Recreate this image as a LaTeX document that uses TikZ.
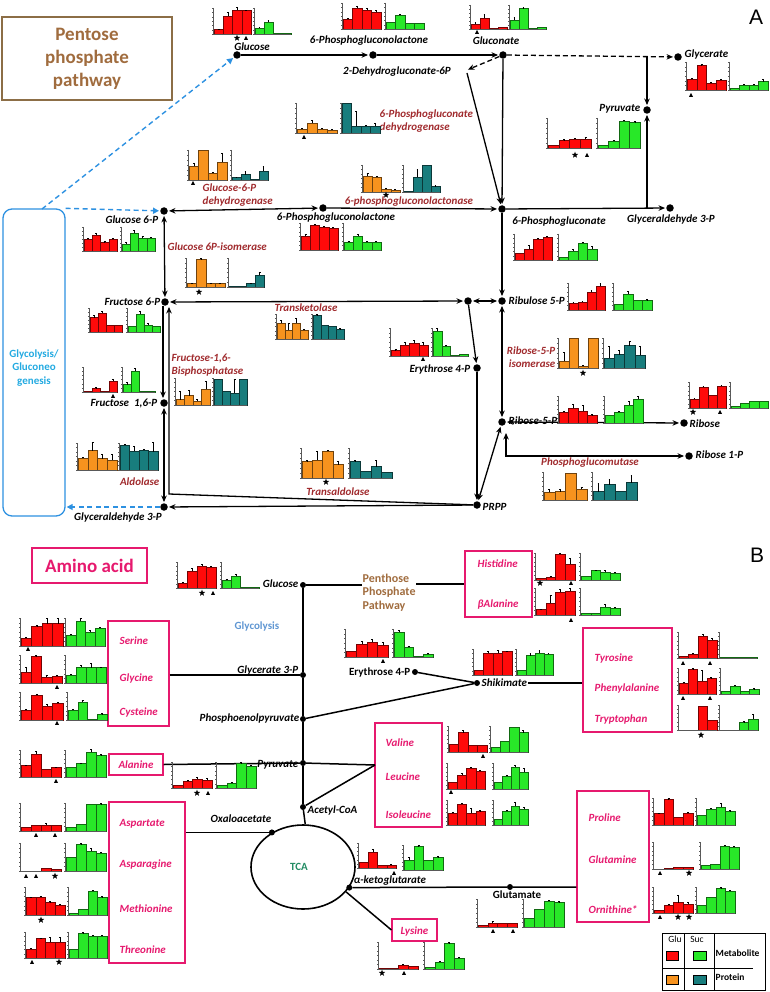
\documentclass[tikz,border=0pt]{standalone}
\usepackage{fontspec}
\setmainfont{Carlito}
\newfontfamily\arialf{Liberation Sans}
\usetikzlibrary{arrows.meta,shapes.geometric}
\definecolor{barR}{RGB}{255,10,10}
\definecolor{barG}{RGB}{40,232,40}
\definecolor{barO}{RGB}{247,147,30}
\definecolor{barT}{RGB}{24,125,125}
\definecolor{enzC}{RGB}{160,42,45}
\definecolor{aaC}{RGB}{230,25,110}
\definecolor{pppC}{RGB}{160,108,62}
\definecolor{pppB}{RGB}{140,110,70}
\definecolor{glyBox}{RGB}{45,145,225}
\definecolor{glyC}{RGB}{35,170,225}
\definecolor{glyB}{RGB}{95,150,210}
\definecolor{tcaC}{RGB}{35,140,100}
\newcommand\chart[6]{%
  \pgfmathsetmacro\cL{#1}\pgfmathsetmacro\cT{#2}\pgfmathsetmacro\cR{#3}\pgfmathsetmacro\cB{#4}%
  \pgfmathsetmacro\cBw{(\cR-\cL-1)/4}\pgfmathsetmacro\cHt{\cB-\cT}%
  \foreach \hh/\ee [count=\cI] in {#6}{%
    \pgfmathsetmacro\cXa{\cL+1+(\cI-1)*\cBw}%
    \pgfmathsetmacro\cXb{\cXa+\cBw}%
    \pgfmathsetmacro\cXm{\cXa+\cBw/2}%
    \pgfmathsetmacro\cYt{\cB-\cHt*max(\hh,0.025)}%
    \pgfmathsetmacro\cYe{\cYt-\cHt*\ee}%
    \ifdim\hh pt>0pt
      \filldraw[fill=#5, draw=#5!45!black, line width=0.35pt] (\cXa,\cB) rectangle (\cXb,\cYt);
    \fi
    \ifdim\ee pt>0pt
      \draw[line width=0.3pt] (\cXm,\cYt) -- (\cXm,\cYe) (\cXm-0.9,\cYe) -- (\cXm+0.9,\cYe);
    \fi
  }%
  \draw[line width=0.4pt, black!65] (\cL,\cT) -- (\cL,\cB) -- (\cR,\cB);
  \foreach \tk in {0,...,6}{\draw[line width=0.25pt, black!65] (\cL,{\cT+\cHt*\tk/6}) -- ++(-1.2,0);}%
}
\newcommand\mtri[2]{\fill (#1-2,#2+1.8) -- (#1+2,#2+1.8) -- (#1,#2-2) -- cycle;}
\newcommand\mstar[2]{\fill[shift={(#1,#2)}] (-90:3.4) -- (-54:1.4) -- (-18:3.4) -- (18:1.4) -- (54:3.4) -- (90:1.4) -- (126:3.4) -- (162:1.4) -- (198:3.4) -- (234:1.4) -- cycle;}
\tikzset{
  lbl/.style={font=\fontsize{11}{13}\selectfont\bfseries\itshape, inner sep=0.5pt, text=black},
  lblu/.style={font=\fontsize{11}{13}\selectfont\bfseries, inner sep=0.5pt, text=black},
  enz/.style={lbl, text=enzC},
  aan/.style={lbl, text=aaC},
  abox/.style={draw=aaC, line width=1.1pt, inner sep=0pt},
  mdot/.style={circle, fill=black, inner sep=0pt, minimum size=7.5pt},
  sdot/.style={circle, fill=black, inner sep=0pt, minimum size=6pt},
  arrw/.style={line width=1.3pt, -{Stealth[length=6.5pt,width=5.5pt]}, shorten >=1pt},
  darrw/.style={line width=1.3pt, {Stealth[length=6.5pt,width=5.5pt]}-{Stealth[length=6.5pt,width=5.5pt]}, shorten >=1pt, shorten <=1pt},
  dsh/.style={dash pattern=on 5pt off 3pt},
  bdash/.style={line width=1.4pt, draw=glyBox, dash pattern=on 5pt off 3.5pt, -{Triangle[length=6pt,width=6pt]}, shorten >=1pt},
  bln/.style={line width=1.5pt},
  legf/.style={font=\fontsize{9.5}{11}\selectfont, inner sep=0.5pt}
}
\begin{document}
\begin{tikzpicture}[x=1pt,y=-1pt]
\useasboundingbox (0,0) rectangle (770,992);
% ---------------- Panel A ----------------
\node[draw=pppB, line width=1.2pt, minimum width=170pt, minimum height=83pt, inner sep=0pt] (pppbox) at (87,58.5) {};
\node[font=\fontsize{19}{23}\selectfont\bfseries, text=pppC, align=center] (ppptxt) at (87,58.5) {Pentose\\phosphate\\pathway};
\node[font=\arialf\fontsize{21}{21}\selectfont] (pA) at (756,17) {A};
\node[draw=glyBox, line width=1.3pt, rounded corners=9pt, minimum width=62pt, minimum height=307pt, inner sep=0pt] (glybox) at (34,362.5) {};
\node[font=\fontsize{11}{13.5}\selectfont\bfseries, text=glyC, align=center] (glytxt) at (34,368) {Glycolysis/\\Gluconeo\\genesis};
% dots
\node[mdot] (glc) at (237,55) {};
\node[mdot] (pgl) at (373,55) {};
\node[mdot] (gln) at (503,55) {};
\node[mdot] (gla) at (678,57) {};
\node[mdot] (pyrA) at (647,110) {};
\node[mdot] (g6p) at (164,211) {};
\node[mdot] (pglB) at (323,208) {};
\node[mdot] (pg) at (502,209) {};
\node[mdot] (ga3pR) at (670,208) {};
\node[mdot] (f6p) at (165,302) {};
\node[mdot] (jx) at (468,301) {};
\node[mdot] (ru5p) at (502,301) {};
\node[mdot] (e4p) at (477,368) {};
\node[mdot] (f16p) at (164,403) {};
\node[mdot] (r5p) at (502,422) {};
\node[mdot] (rib) at (684,423) {};
\node[mdot] (r1p) at (689,456) {};
\node[mdot] (prpp) at (477,505) {};
\node[mdot] (ga3pL) at (164,507) {};
\coordinate (dhgc) at (467,70);
\coordinate (j1) at (647,56);
\coordinate (j2) at (647,208.5);
\coordinate (cnr) at (169,494);
\coordinate (rt) at (506,432);
\coordinate (rc) at (506,456);
\coordinate (gb1) at (42,209);
% labels
\node[lbl] (lglc) at (252,47) {Glucose};
\node[lbl] (lpgl) at (369,41) {6-Phosphogluconolactone};
\node[lbl] (ldhg) at (397,72) {2-Dehydrogluconate-6P};
\node[lbl] (lgln) at (496,41) {Gluconate};
\node[lbl, anchor=west] (lgla) at (684,55) {Glycerate};
\node[lbl, anchor=east] (lpyrA) at (641,109) {Pyruvate};
\node[enz, anchor=west, align=left] (lpgd) at (379,121.5) {6-Phosphogluconate\\ dehydrogenase};
\node[enz, anchor=west, align=left] (lg6pd) at (202,195) {Glucose-6-P\\dehydrogenase};
\node[lbl, anchor=east] (lg6p) at (159,220) {Glucose 6-P};
\node[lbl] (lpglB) at (336,218) {6-Phosphogluconolactone};
\node[enz] (lpgls) at (409,202) {6-phosphogluconolactonase};
\node[lbl] (lpg) at (559,222) {6-Phosphogluconate};
\node[lbl] (lga3pR) at (671,220) {Glyceraldehyde 3-P};
\node[enz, anchor=west] (lgpi) at (167,247) {Glucose 6P-isomerase};
\node[lbl, anchor=east] (lf6p) at (161,302) {Fructose 6-P};
\node[enz] (ltk) at (306,308) {Transketolase};
\node[lbl, anchor=west] (lru5p) at (508,301) {Ribulose 5-P};
\node[lbl, anchor=east] (le4p) at (471,370) {Erythrose 4-P};
\node[enz, anchor=east, align=right] (lrpi) at (556,357) {Ribose-5-P\\isomerase};
\node[lbl, anchor=east] (lf16p) at (158,403) {Fructose\ \ 1,6-P};
\node[enz, anchor=west, align=left] (lfbp) at (171,365.5) {Fructose-1,6-\\Bisphosphatase};
\node[lbl, anchor=west] (lr5p) at (508,421) {Ribose-5-P};
\node[lbl, anchor=west] (lrib) at (689,424) {Ribose};
\node[lbl, anchor=west] (lr1p) at (695,455) {Ribose 1-P};
\node[enz] (lpgm) at (590,463) {Phosphoglucomutase};
\node[enz, anchor=east] (lald) at (160,482) {Aldolase};
\node[enz] (ltal) at (338,492) {Transaldolase};
\node[lbl, anchor=west] (lprpp) at (482,507) {PRPP};
\node[lbl] (lga3pL) at (118,518) {Glyceraldehyde 3-P};
% arrows
\draw[arrw] (glc) -- (pgl);
\draw[arrw] (pgl) -- (gln);
\draw[arrw, dsh] (gln) -- (dhgc);
\draw[arrw, dsh] (gln) -- (gla);
\draw[arrw] (j1) -- (pyrA);
\draw[arrw] (gln) -- (pg);
\draw[arrw] ([yshift=-3pt]dhgc) -- (pg);
\draw[darrw] (g6p) -- (pglB);
\draw[arrw] (pglB) -- (pg);
\draw[arrw] (pg) -- (ga3pR);
\draw[arrw] (j2) -- (pyrA);
\draw[arrw] (pg) -- (ru5p);
\draw[darrw] (g6p) -- (f6p);
\draw[arrw] ([xshift=-2pt]f6p.south) -- ([xshift=-1pt]f16p.north);
\draw[arrw] (prpp) -- (cnr) -- (cnr |- f6p.south);
\draw[darrw] (f16p) -- (ga3pL);
\draw[arrw] (prpp) -- (ga3pL);
\draw[darrw] (f6p) -- (jx);
\draw[darrw] (jx) -- (ru5p);
\draw[arrw] (jx) -- (e4p);
\draw[arrw] (e4p) -- (prpp);
\draw[darrw] (prpp) -- (r5p);
\draw[darrw] (ru5p) -- (r5p);
\draw[darrw] (r5p) -- (rib);
\draw[darrw] (rt) -- (rc) -- (r1p);
\draw[bdash] (gb1) -- (glc);
\draw[bdash] (glybox.north east) -- (g6p);
\draw[bdash] (ga3pL) -- (ga3pL -| glybox.east);
% charts A
\chart{213}{8}{251}{34}{barR}{0.17/0.03,0.7/0.15,0.92/0.1,0.9/0.03}
\chart{254}{8}{291}{34}{barG}{0.24/0.03,0.47/0.05,0.02/0,0.02/0}
\mstar{237}{38}\mtri{246}{38}
\chart{342}{3}{381}{29}{barR}{0.38/0.05,0.82/0.05,0.73/0.06,0.65/0.07}
\chart{385}{3}{424}{29}{barG}{0.26/0,0.53/0.05,0.24/0,0.24/0}
\chart{470}{5}{507}{29}{barR}{0.2/0.08,0.45/0.15,0.02/0,0.08/0}
\chart{509}{5}{546}{29}{barG}{0.38/0.1,0.85/0.05,0.02/0,0.08/0}
\mtri{477}{32}
\chart{686}{62}{726}{90}{barR}{0.38/0.05,0.88/0.03,0.24/0.03,0.35/0.03}
\chart{729}{62}{768}{90}{barG}{0.08/0,0.17/0.03,0.17/0.03,0.3/0.1}
\mtri{691}{95}
\chart{547}{118}{591}{148}{barR}{0.1/0,0.25/0.03,0.3/0.03,0.3/0.05}
\chart{597}{118}{640}{148}{barG}{0.08/0,0.22/0.03,0.9/0.04,0.85/0.03}
\mstar{575}{155}\mtri{587}{155}
\chart{296}{103}{337}{133}{barO}{0.12/0.03,0.33/0.1,0.12/0.03,0.1/0.03}
\chart{341}{103}{380}{133}{barT}{1.0/0,0.22/0.5,0.22/0.05,0.22/0.1}
\mtri{304}{137}
\chart{188}{150}{227}{180}{barO}{0.45/0.1,1.0/0,0.22/0.05,0.6/0.3}
\chart{231}{150}{268}{180}{barT}{0.08/0.03,0.18/0.1,0.02/0,0.3/0.15}
\mtri{193}{183}
\chart{362}{165}{400}{192}{barO}{0.6/0.1,0.55/0.03,0.1/0.03,0.08/0.03}
\chart{403}{165}{440}{192}{barT}{0.02/0,0.55/0.3,1.0/0,0.2/0.05}
\mstar{386}{195}
\chart{83}{227}{117}{251}{barR}{0.5/0.05,0.65/0.1,0.35/0.05,0.5/0.03}
\chart{121}{227}{155}{251}{barG}{0.3/0.05,0.75/0.1,0.55/0.05,0.55/0.03}
\chart{300}{223}{338}{250}{barR}{0.5/0.1,0.92/0.05,0.85/0.03,0.8/0.04}
\chart{343}{223}{381}{250}{barG}{0.3/0.03,0.5/0.1,0.3/0.03,0.3/0.04}
\chart{514}{234}{552}{260}{barR}{0.25/0,0.42/0.15,0.8/0.05,0.88/0.04}
\chart{558}{234}{597}{260}{barG}{0.12/0,0.35/0.05,0.65/0.05,0.42/0.1}
\chart{186}{258}{225}{287}{barO}{0.12/0.03,0.95/0.03,0.12/0.03,0.12/0.03}
\chart{228}{258}{264}{287}{barT}{0.02/0,0.02/0,0.12/0.03,0.4/0.1}
\mstar{199}{292}
\chart{89}{308}{122}{332}{barR}{0.6/0.1,0.8/0.05,0.3/0,0.3/0}
\chart{127}{308}{160}{332}{barG}{0.25/0,0.75/0.1,0.3/0.05,0.25/0}
\chart{276}{314}{308}{339}{barO}{0.65/0.1,0.35/0.3,0.65/0.2,0.35/0.05}
\chart{312}{314}{344}{339}{barT}{0.95/0.03,0.55/0,0.52/0,0.38/0.05}
\chart{568}{283}{605}{310}{barR}{0.25/0.03,0.3/0.03,0.65/0.1,0.9/0.1}
\chart{613}{283}{652}{310}{barG}{0.2/0,0.6/0.1,0.35/0,0.35/0.05}
\chart{390}{328}{428}{356}{barR}{0.2/0.03,0.4/0.1,0.45/0.1,0.4/0.1}
\chart{432}{328}{468}{356}{barG}{0.9/0.08,0.35/0.03,0.02/0,0.08/0}
\mtri{423}{359}
\chart{558}{338}{598}{368}{barO}{0.22/0.3,1.0/0,0.06/0.05,1.0/0}
\chart{603}{338}{645}{368}{barT}{0.32/0.4,0.45/0.15,0.75/0.15,0.42/0.3}
\mstar{583}{373}
\chart{83}{367}{117}{392}{barR}{0.04/0,0.15/0.03,0.02/0,0.45/0.05}
\chart{122}{367}{155}{392}{barG}{0.3/0.1,0.85/0.1,0.02/0,0.03/0}
\mtri{113}{396}
\chart{175}{378}{210}{405}{barO}{0.2/0.3,0.35/0.2,0.15/0.05,0.58/0.3}
\chart{213}{378}{247}{405}{barT}{0.95/0,0.52/0,0.45/0.5,0.95/0}
\chart{558}{396}{597}{423}{barR}{0.4/0.03,0.55/0.15,0.45/0.2,0.28/0.03}
\chart{604}{396}{643}{423}{barG}{0.3/0,0.4/0.03,0.65/0.15,0.9/0.1}
\chart{689}{382}{726}{408}{barR}{0.35/0.03,0.8/0.05,0.5/0,0.85/0.03}
\chart{730}{382}{768}{408}{barG}{0.08/0,0.18/0,0.25/0,0.25/0}
\mstar{693}{412}\mtri{720}{412}
\chart{77}{443}{117}{470}{barO}{0.45/0.03,0.72/0.3,0.42/0.15,0.38/0.2}
\chart{119}{443}{158}{470}{barT}{0.92/0.03,0.7/0.2,0.75/0.03,0.68/0.35}
\chart{301}{448}{343}{478}{barO}{0.55/0.03,0.6/0.3,0.9/0.03,0.45/0.1}
\chart{349}{448}{392}{478}{barT}{0.55/0.05,0.22/0,0.38/0.2,0.2/0}
\mstar{326}{482}
\chart{543}{472}{587}{500}{barO}{0.28/0.1,0.3/0.08,0.95/0,0.38/0.08}
\chart{592}{472}{637}{500}{barT}{0.3/0.3,0.55/0.2,0.3/0,0.62/0.25}
% ---------------- Panel B ----------------
\node[abox, line width=1.2pt, minimum width=115pt, minimum height=35pt, font=\fontsize{19}{20}\selectfont\bfseries, text=aaC] (aabox) at (89.5,565.5) {Amino acid};
\node[font=\arialf\fontsize{21}{21}\selectfont] (pB) at (757,555) {B};
\node[abox, minimum width=67pt, minimum height=66pt] (his) at (498.5,584) {};
\node[abox, minimum width=61pt, minimum height=105pt] (sgc) at (138.5,673.5) {};
\node[abox, minimum width=89pt, minimum height=104pt] (tyr) at (627.5,680) {};
\node[abox, minimum width=54pt, minimum height=21pt] (ala) at (136,764.5) {};
\node[abox, minimum width=67pt, minimum height=104pt] (val) at (408.5,775) {};
\node[abox, minimum width=76pt, minimum height=161pt] (asp) at (147,882.5) {};
\node[abox, minimum width=72pt, minimum height=131pt] (pro) at (613,856.5) {};
\node[abox, minimum width=45pt, minimum height=22pt] (lys) at (414.5,930) {};
\node[aan, anchor=west] (tHis) at (477,564) {Histidine};
\node[aan, anchor=west] (tBal) at (477,605) {βAlanine};
\node[aan, anchor=west] (tSer) at (119,641) {Serine};
\node[aan, anchor=west] (tGly) at (119,678) {Glycine};
\node[aan, anchor=west] (tCys) at (119,712) {Cysteine};
\node[aan, anchor=west] (tTyr) at (594,658) {Tyrosine};
\node[aan, anchor=west] (tPhe) at (594,688) {Phenylalanine};
\node[aan, anchor=west] (tTrp) at (594,719) {Tryptophan};
\node[aan] (tAla) at (136,765) {Alanine};
\node[aan, anchor=west] (tVal) at (385,743) {Valine};
\node[aan, anchor=west] (tLeu) at (385,777) {Leucine};
\node[aan, anchor=west] (tIle) at (385,815) {Isoleucine};
\node[aan, anchor=west] (tAsp) at (119,824) {Aspartate};
\node[aan, anchor=west] (tAsn) at (119,865) {Asparagine};
\node[aan, anchor=west] (tMet) at (119,909) {Methionine};
\node[aan, anchor=west] (tThr) at (119,950) {Threonine};
\node[aan, anchor=west] (tPro) at (588,818) {Proline};
\node[aan, anchor=west] (tGln) at (588,860) {Glutamine};
\node[aan, anchor=west] (tOrn) at (588,910) {Ornithine*};
\node[aan] (tLys) at (414.5,931) {Lysine};
\node[draw, ellipse, line width=1.6pt, minimum width=104pt, minimum height=84pt, inner sep=0pt] (tca) at (303,867) {};
\node[font=\fontsize{11}{12}\selectfont\bfseries, text=tcaC] (ttca) at (299,867) {TCA};
\node[sdot] (glcB) at (303,585) {};
\node[sdot] (g3pB) at (303,675) {};
\node[sdot] (pep) at (303,719) {};
\node[sdot] (pyrB) at (303,763) {};
\node[sdot] (acoa) at (303,807) {};
\node[sdot] (e4pB) at (415,672) {};
\node[sdot] (shik) at (477,683) {};
\node[sdot] (glu) at (510,887) {};
\node[sdot] (oaa) at (tca.132) {};
\node[sdot] (akg) at (tca.-24) {};
\coordinate (vj) at (375,765);
\node[lbl, anchor=east] (lglcB) at (299,584) {Glucose};
\node[font=\fontsize{12}{13.5}\selectfont\bfseries, text=pppC, align=left, anchor=west, inner sep=0.5pt] (ppp) at (362,592.5) {Penthose\\Phosphate\\Pathway};
\node[font=\fontsize{11}{12}\selectfont\bfseries, text=glyB] (tgly) at (257,626) {Glycolysis};
\node[lbl, anchor=east] (lg3p) at (299,670) {Glycerate 3-P};
\node[lbl, anchor=east] (lpep) at (300,718) {Phosphoenolpyruvate};
\node[lbl, anchor=east] (lpyrB) at (299,765) {Pyruvate};
\node[lbl, anchor=west] (lacoa) at (307,810) {Acetyl-CoA};
\node[lblu, anchor=east] (le4pB) at (411,672) {Erythrose 4-P};
\node[lbl, anchor=west] (lshik) at (481,683) {Shikimate};
\node[lbl] (loaa) at (241,819) {Oxaloacetate};
\node[lbl] (lakg) at (390,881) {α-ketoglutarate};
\node[lblu] (lglu) at (517,895) {Glutamate};
% lines B
\draw[bln] (glcB) -- (g3pB) -- (pep) -- (pyrB) -- (acoa);
\draw[bln] (acoa) -- (tca.87);
\draw[bln] (glcB) -- (glcB -| ppp.west);
\draw[bln] (ppp.east |- his.west) -- (his.west);
\draw[bln] (sgc.east |- g3pB) -- (g3pB);
\draw[bln] (pep) -- (shik);
\draw[bln] (e4pB) -- (shik);
\draw[line width=2.6pt] (lshik.east) -- (lshik.east -| tyr.west);
\draw[bln] (ala.east) -- (pyrB);
\draw[bln] (pyrB) -- (vj);
\draw[bln] (acoa) -- (vj);
\draw[bln] (oaa) -- (oaa -| asp.east);
\draw[bln] (akg) -- (glu) -- (glu -| pro.west);
\draw[bln] (tca.-30) -- (lys.west);
% charts B
\chart{177}{562}{216}{588}{barR}{0.2/0.03,0.65/0.1,0.85/0.05,0.8/0.03}
\chart{221}{562}{259}{588}{barG}{0.3/0.03,0.45/0.1,0.05/0,0.05/0}
\mstar{202}{593}\mtri{213}{593}
\chart{535}{553}{575}{580}{barR}{0.05/0,0.1/0.03,0.95/0.05,0.6/0.2}
\chart{580}{553}{620}{580}{barG}{0.15/0,0.35/0.03,0.3/0.05,0.25/0.03}
\mstar{540}{583}\mtri{571}{583}
\chart{535}{588}{575}{615}{barR}{0.2/0.03,0.45/0.3,0.85/0.1,0.9/0.1}
\chart{580}{588}{620}{615}{barG}{0.05/0,0.08/0,0.3/0.1,0.25/0.05}
\mtri{571}{620}
\chart{20}{618}{63}{646}{barR}{0.28/0.03,0.7/0.03,0.8/0.2,0.8/0.2}
\chart{65}{618}{105}{646}{barG}{0.4/0.03,0.9/0.1,0.5/0.05,0.65/0.03}
\mtri{28}{649}
\chart{20}{655}{62}{683}{barR}{0.38/0.2,0.95/0.03,0.22/0.05,0.25/0.03}
\chart{65}{655}{106}{683}{barG}{0.28/0.03,0.58/0.05,0.55/0.15,0.55/0.03}
\mtri{57}{687}
\chart{20}{692}{63}{720}{barR}{0.35/0.03,0.88/0.05,0.5/0.08,0.6/0.03}
\chart{67}{692}{107}{720}{barG}{0.35/0.03,0.65/0.05,0.02/0,0.2/0.03}
\mtri{57}{723}
\chart{345}{629}{388}{657}{barR}{0.22/0,0.45/0.1,0.52/0.1,0.42/0.1}
\chart{393}{629}{433}{657}{barG}{0.9/0.05,0.35/0.03,0.02/0,0.1/0.03}
\mtri{383}{661}
\chart{473}{649}{512}{675}{barR}{0.2/0,0.85/0.05,0.85/0.1,0.9/0.03}
\chart{516}{649}{553}{675}{barG}{0.2/0,0.75/0.1,0.85/0.1,0.8/0.03}
\chart{678}{632}{717}{658}{barR}{0.08/0,0.15/0.03,0.85/0.05,0.7/0.05}
\chart{719}{632}{757}{658}{barG}{0.03/0,0.03/0,0.03/0,0.03/0}
\mtri{683}{663}\mtri{710}{663}
\chart{678}{668}{716}{694}{barR}{0.42/0.03,0.95/0.03,0.5/0.4,0.6/0.03}
\chart{720}{668}{759}{694}{barG}{0.1/0,0.3/0.03,0.12/0,0.18/0.03}
\mtri{683}{698}\mtri{710}{698}
\chart{678}{705}{717}{730}{barR}{0/0,0/0,0.95/0,0.4/0}
\chart{719}{705}{758}{730}{barG}{0/0,0/0,0.3/0.05,0.45/0.2}
\mstar{701}{735}
\chart{20}{750}{61}{777}{barR}{0.42/0.03,0.85/0.1,0.28/0,0.35/0.03}
\chart{65}{750}{106}{777}{barG}{0.35/0,0.5/0.03,0.92/0.1,0.8/0.03}
\mtri{56}{781}
\chart{172}{762}{212}{788}{barR}{0.12/0,0.28/0.03,0.35/0.05,0.32/0.05}
\chart{216}{762}{256}{788}{barG}{0.12/0,0.2/0.03,0.95/0.03,0.85/0.03}
\mstar{197}{793}\mtri{208}{793}
\chart{448}{726}{487}{752}{barR}{0.3/0,0.75/0.1,0.28/0,0.28/0}
\chart{490}{726}{528}{752}{barG}{0.2/0,0.4/0,0.95/0,0.75/0.1}
\mtri{483}{756}
\chart{447}{763}{485}{789}{barR}{0.28/0,0.55/0.05,0.8/0.05,0.7/0.03}
\chart{493}{763}{528}{789}{barG}{0.25/0,0.5/0.03,0.85/0.05,0.65/0.15}
\mtri{451}{792}
\chart{447}{800}{485}{825}{barR}{0.48/0.03,0.85/0.03,0.48/0.2,0.55/0.03}
\chart{493}{800}{528}{825}{barG}{0.25/0,0.55/0.05,0.75/0.15,0.65/0.05}
\chart{358}{843}{396}{868}{barR}{0.25/0,0.65/0.1,0.1/0,0.12/0.03}
\chart{403}{845}{443}{870}{barG}{0.4/0.1,0.95/0.03,0.38/0,0.5/0.05}
\mtri{394}{873}
\chart{477}{899}{517}{927}{barR}{0.05/0,0.15/0.05,0.12/0,0.12/0}
\chart{523}{899}{564}{927}{barG}{0.3/0,0.65/0,0.92/0.03,0.88/0.03}
\mtri{493}{931}\mtri{513}{931}
\chart{378}{942}{418}{969}{barR}{0.02/0,0.03/0,0.15/0.03,0.12/0}
\chart{424}{942}{464}{969}{barG}{0.08/0,0.25/0.05,0.95/0.03,0.4/0.05}
\mstar{382}{973}\mtri{404}{973}
\chart{653}{798}{693}{825}{barR}{0.42/0.03,0.95/0.03,0.3/0,0.45/0.03}
\chart{696}{798}{735}{825}{barG}{0.38/0,0.6/0.03,0.65/0.15,0.5/0.05}
\chart{653}{842}{693}{869}{barR}{0/0,0.02/0,0.05/0,0.05/0}
\chart{700}{842}{739}{869}{barG}{0.15/0,0.18/0,0.85/0.05,0.8/0.05}
\mtri{660}{873}\mstar{689}{873}
\chart{653}{887}{693}{913}{barR}{0.12/0,0.3/0.03,0.4/0.3,0.35/0.05}
\chart{696}{887}{735}{913}{barG}{0.3/0,0.62/0,0.95/0.03,0.85/0.03}
\mtri{660}{917}\mstar{678}{917}\mstar{689}{917}
\chart{20}{803}{61}{831}{barR}{0.15/0,0.22/0,0.22/0.05,0.22/0}
\chart{65}{803}{106}{831}{barG}{0.12/0,0.25/0,0.95/0,0.95/0.03}
\mtri{36}{835}\mtri{55}{835}
\chart{20}{843}{61}{871}{barR}{0/0,0/0,0.1/0,0.08/0}
\chart{65}{843}{106}{871}{barG}{0.5/0,0.95/0.03,0.7/0.1,0.65/0.03}
\mtri{26}{876}\mtri{36}{876}\mstar{55}{876}
\chart{25}{887}{65}{915}{barR}{0.62/0.03,0.65/0.03,0.45/0.03,0.35/0.03}
\chart{68}{887}{107}{915}{barG}{0.05/0,0.22/0,0.85/0.05,0.62/0.05}
\mstar{41}{920}
\chart{25}{932}{65}{958}{barR}{0.35/0.03,0.75/0.03,0.6/0.2,0.6/0.2}
\chart{68}{932}{107}{958}{barG}{0.35/0,0.95/0.03,0.85/0.03,0.85/0.03}
\mtri{32}{962}\mstar{59}{962}
% legend
\node[draw, line width=0.8pt, minimum width=103pt, minimum height=57pt, inner sep=0pt] (leg) at (713.5,961.5) {};
\draw[line width=0.8pt] (684,933) -- (684,990) (714,933) -- (714,990) (662,968) -- (753,968);
\filldraw[fill=barR, draw=black, line width=0.5pt] (666,951) rectangle (678,960);
\filldraw[fill=barG, draw=black, line width=0.5pt] (693,951) rectangle (706,960);
\filldraw[fill=barO, draw=black, line width=0.5pt] (666,975) rectangle (678,984);
\filldraw[fill=barT, draw=black, line width=0.5pt] (693,975) rectangle (706,984);
\node[legf] (lgGlu) at (675,939) {Glu};
\node[legf] (lgSuc) at (697,939) {Suc};
\node[legf, font=\fontsize{9.5}{11}\selectfont\bfseries, anchor=west] (lgMet) at (715,953) {Metabolite};
\node[legf, font=\fontsize{9.5}{11}\selectfont\bfseries, anchor=west] (lgPro) at (715,977) {Protein};
\end{tikzpicture}
\end{document}
